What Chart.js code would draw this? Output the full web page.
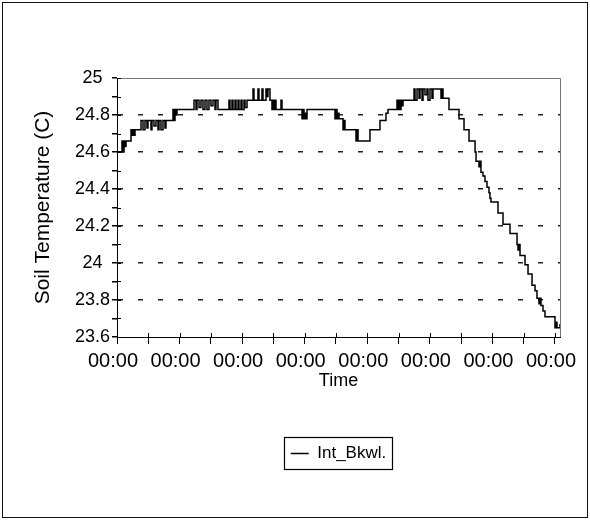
<!DOCTYPE html>
<html>
<head>
<meta charset="utf-8">
<script src="https://cdn.jsdelivr.net/npm/chart.js@4.4.1/dist/chart.umd.min.js"></script>
<style>
  html, body { margin: 0; padding: 0; background: #fff; }
  #frame { position: absolute; left: 2px; top: 2px; width: 584px; height: 514px; border: 1.5px solid #111; }
  #myChart { position: absolute; left: 0; top: 0; }
</style>
</head>
<body>
<div id="frame"></div>
<canvas id="myChart" width="590" height="521"></canvas>
<script>
// x positions in tick units (one "00:00" tick = 1)
const timeIdx = [
  0, 0.080, 0.096, 0.112, 0.128, 0.144, 0.224, 0.240, 0.256, 0.272,
  0.288, 0.384, 0.416, 0.447, 0.479, 0.495, 0.543, 0.559, 0.591, 0.623,
  0.655, 0.671, 0.703, 0.735, 0.767, 0.783, 0.895, 0.911, 0.927, 0.943,
  0.959, 1.231, 1.263, 1.279, 1.311, 1.342, 1.374, 1.406, 1.438, 1.470,
  1.502, 1.534, 1.566, 1.582, 1.614, 1.790, 1.806, 1.838, 1.854, 1.886,
  1.902, 1.934, 1.950, 1.982, 1.998, 2.030, 2.046, 2.078, 2.174, 2.189,
  2.253, 2.269, 2.317, 2.333, 2.381, 2.397, 2.413, 2.445, 2.477, 2.493,
  2.509, 2.525, 2.541, 2.621, 2.637, 2.957, 2.973, 2.989, 3.005, 3.021,
  3.037, 3.484, 3.500, 3.516, 3.532, 3.548, 3.612, 3.628, 3.644, 3.820,
  3.836, 3.852, 4.043, 4.203, 4.299, 4.331, 4.475, 4.491, 4.507, 4.523,
  4.539, 4.555, 4.571, 4.747, 4.763, 4.795, 4.827, 4.843, 4.875, 4.891,
  4.922, 4.954, 4.970, 5.002, 5.034, 5.050, 5.178, 5.194, 5.210, 5.306,
  5.466, 5.546, 5.626, 5.722, 5.738, 5.785, 5.801, 5.817, 5.849, 5.881,
  5.913, 5.945, 5.961, 5.977, 6.089, 6.169, 6.281, 6.393, 6.409, 6.425,
  6.441, 6.521, 6.569, 6.633, 6.681, 6.712, 6.744, 6.760, 6.776, 6.808,
  6.840, 7.000, 7.016, 7.032, 7.080
];
// soil temperature (C) at each change point
const soilTemp = [
  24.60, 24.66, 24.60, 24.66, 24.63, 24.66, 24.72, 24.69, 24.72, 24.69,
  24.72, 24.77, 24.72, 24.77, 24.73, 24.77, 24.72, 24.77, 24.74, 24.77,
  24.72, 24.77, 24.72, 24.77, 24.73, 24.77, 24.83, 24.77, 24.83, 24.80,
  24.83, 24.88, 24.83, 24.88, 24.84, 24.88, 24.83, 24.88, 24.83, 24.88,
  24.85, 24.88, 24.83, 24.88, 24.83, 24.88, 24.83, 24.88, 24.83, 24.88,
  24.83, 24.88, 24.83, 24.88, 24.83, 24.88, 24.84, 24.88, 24.94, 24.88,
  24.94, 24.88, 24.94, 24.88, 24.94, 24.90, 24.94, 24.88, 24.83, 24.88,
  24.83, 24.88, 24.83, 24.88, 24.83, 24.78, 24.83, 24.78, 24.81, 24.78,
  24.83, 24.78, 24.83, 24.78, 24.81, 24.78, 24.72, 24.77, 24.72, 24.66,
  24.72, 24.66, 24.72, 24.77, 24.81, 24.83, 24.88, 24.83, 24.88, 24.83,
  24.88, 24.85, 24.88, 24.94, 24.88, 24.94, 24.89, 24.94, 24.88, 24.94,
  24.91, 24.94, 24.88, 24.94, 24.89, 24.94, 24.89, 24.94, 24.89, 24.83,
  24.78, 24.72, 24.66, 24.60, 24.55, 24.52, 24.55, 24.49, 24.47, 24.44,
  24.41, 24.38, 24.35, 24.33, 24.27, 24.21, 24.16, 24.10, 24.07, 24.10,
  24.04, 23.99, 23.94, 23.88, 23.85, 23.81, 23.78, 23.81, 23.77, 23.74,
  23.71, 23.65, 23.68, 23.65, 23.67
];
const tickLabels = ['00:00', '00:00', '00:00', '00:00', '00:00', '00:00', '00:00', '00:00'];
const seriesName = 'Int_Bkwl.';

const fontFamily = '"Liberation Sans", Arial, Helvetica, sans-serif';

// frame of plot area, inner halves of the tick marks, legend box
const decorations = {
    id: 'decorations',
    afterDraw(chart) {
        const { ctx, chartArea, scales } = chart;
        ctx.save();
        ctx.strokeStyle = '#777';
        ctx.lineWidth = 1;
        ctx.beginPath();
        ctx.moveTo(chartArea.left, chartArea.top + 0.5);
        ctx.lineTo(chartArea.right + 0.5, chartArea.top + 0.5);
        ctx.lineTo(chartArea.right + 0.5, chartArea.bottom);
        ctx.stroke();

        ctx.strokeStyle = '#000';
        ctx.beginPath();
        scales.y.ticks.forEach(t => {
            const y = Math.round(scales.y.getPixelForValue(t.value)) + 0.5;
            ctx.moveTo(chartArea.left, y);
            ctx.lineTo(chartArea.left + 4, y);
        });
        scales.x.ticks.forEach(t => {
            const x = Math.round(scales.x.getPixelForValue(t.value)) + 0.5;
            ctx.moveTo(x, chartArea.bottom);
            ctx.lineTo(x, chartArea.bottom - 4);
        });
        ctx.stroke();

        const hb = chart.legend.legendHitBoxes[0];
        if (hb) {
            ctx.lineWidth = 1.2;
            ctx.strokeRect(Math.round(hb.left - 7) + 0.5, Math.round(hb.top - 8) + 0.5,
                Math.round(hb.width + 13), Math.round(hb.height + 15));
        }
        ctx.restore();
    }
};

const points = timeIdx.map((t, i) => ({ x: t, y: soilTemp[i] }));

new Chart(document.getElementById('myChart').getContext('2d'), {
    type: 'line',
    data: {
        datasets: [{
            label: seriesName,
            data: points,
            borderColor: '#000',
            backgroundColor: '#000',
            borderWidth: 1.5,
            pointRadius: 0,
            stepped: true,
            fill: false
        }]
    },
    options: {
        responsive: false,
        animation: false,
        layout: { padding: { top: 78, left: 20, right: 30, bottom: 49 } },
        plugins: {
            tooltip: { enabled: false },
            legend: {
                position: 'bottom',
                fullSize: false,
                labels: {
                    usePointStyle: true,
                    pointStyle: 'line',
                    pointStyleWidth: 18,
                    boxHeight: 16,
                    padding: 10,
                    color: '#000',
                    font: { family: fontFamily, size: 17 }
                }
            }
        },
        scales: {
            x: {
                type: 'linear',
                min: 0,
                max: 7.08,
                // major tick at every label, minor tick half way between
                afterBuildTicks: s => {
                    const ticks = [];
                    for (let i = 0; i < tickLabels.length * 2 - 1; i++) ticks.push({ value: i / 2 });
                    s.ticks = ticks;
                },
                afterFit: s => { s.height = 98; },
                ticks: {
                    autoSkip: false,
                    maxRotation: 0,
                    minRotation: 0,
                    padding: 5,
                    labelOffset: -4,
                    color: '#000',
                    font: { family: fontFamily, size: 20 },
                    callback: v => Math.abs(v - Math.round(v)) < 1e-6 ? tickLabels[Math.round(v)] : ''
                },
                grid: { drawOnChartArea: false, tickLength: 7, tickColor: '#000' },
                border: { color: '#000', width: 1 },
                title: {
                    display: true,
                    text: 'Time',
                    color: '#000',
                    font: { family: fontFamily, size: 18 },
                    padding: { top: 0, bottom: 43 }
                }
            },
            y: {
                min: 23.6,
                max: 25,
                afterFit: s => { s.width = 97; },
                ticks: {
                    stepSize: 0.1,
                    autoSkip: false,
                    crossAlign: 'center',
                    padding: 2,
                    color: '#000',
                    font: { family: fontFamily, size: 18 },
                    callback: v => {
                        const r = Math.round(v * 10);
                        return r % 2 === 0 ? String(r / 10) : '';
                    }
                },
                grid: {
                    color: c => {
                        const r = Math.round(c.tick.value * 10);
                        return (r % 2 === 0 && r !== 236 && r !== 250) ? '#222' : 'rgba(0,0,0,0)';
                    },
                    lineWidth: 1.5,
                    tickColor: '#000',
                    tickLength: 5
                },
                border: { color: '#000', width: 1, dash: [5, 15] },
                title: {
                    display: true,
                    text: 'Soil Temperature (C)',
                    color: '#000',
                    font: { family: fontFamily, size: 21 },
                    padding: { top: 11, bottom: 0 }
                }
            }
        }
    },
    plugins: [decorations]
});
</script>
</body>
</html>
